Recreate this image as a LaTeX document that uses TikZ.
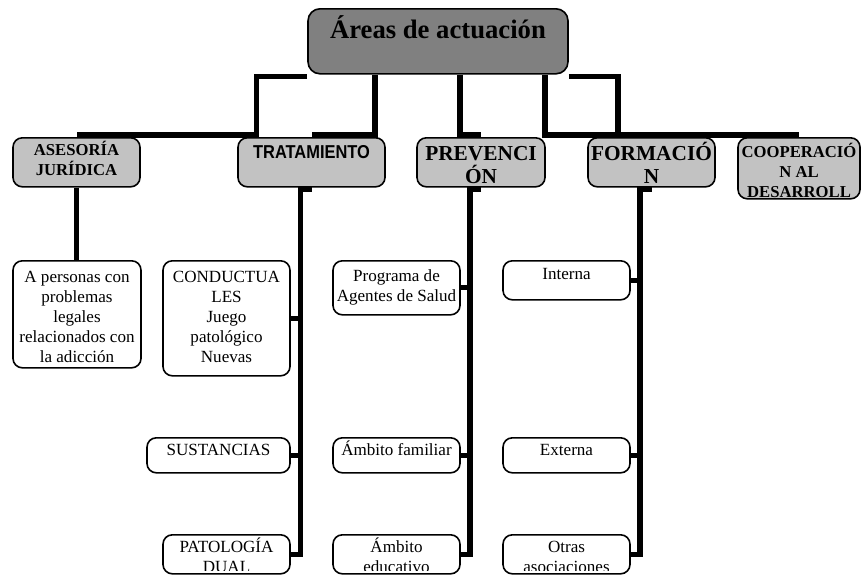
\documentclass[tikz,border=0pt]{standalone}
\usepackage{fontspec}
\setmainfont{Liberation Serif}
\newfontfamily\narrowsans[FakeStretch=0.88]{Liberation Sans}
\definecolor{darkbox}{gray}{0.5}
\definecolor{lightbox}{gray}{0.76}
\tikzstyle{every node}=[inner sep=0pt,anchor=north,align=center]
\tikzstyle{root}=[draw=black,line width=1.2pt,rounded corners=9pt,fill=darkbox,font=\fontsize{20}{24}\selectfont\bfseries]
\tikzstyle{area}=[draw=black,line width=1.2pt,rounded corners=7pt,fill=lightbox,font=\fontsize{12.5}{15}\selectfont\bfseries]
\tikzstyle{big}=[font=\fontsize{16}{17}\selectfont\bfseries]
\tikzstyle{leaf}=[draw=black,line width=1.2pt,rounded corners=7pt,fill=white,font=\fontsize{12.8}{15}\selectfont]
\tikzstyle{cut}=[font=\fontsize{12.8}{15}\selectfont,text height=28.5pt]
\tikzstyle{link}=[line width=4pt]

\begin{document}
\begin{tikzpicture}[x=0.75pt,y=-0.75pt]
  \useasboundingbox (0,0) rectangle (862,576);
  \node[root,minimum width=195pt,text height=22.5pt,text depth=26.25pt] (R) at (438,8) {Áreas de actuación};

  \node[area,minimum width=95.25pt,text height=28.5pt,text depth=8.25pt] (A1) at (76.5,137) {ASESORÍA\\JURÍDICA};
  \node[area,font=\narrowsans\fontsize{14}{16}\selectfont\bfseries,minimum width=110.25pt,text height=15.75pt,text depth=21pt] (A2) at (311.5,137) {TRATAMIENTO};
  \node[area,big,minimum width=96pt,text height=34.25pt,text depth=2.5pt] (A3) at (481,137) {PREVENCI\\ÓN};
  \node[area,big,minimum width=95.25pt,text height=34.25pt,text depth=2.5pt] (A4) at (651.5,137) {FORMACIÓ\\N};
  \node[area,minimum width=91.5pt,text height=45pt,text depth=0.75pt] (A5) at (799,137) {COOPERACIÓ\\N AL\\DESARROLL};

  \node[leaf,minimum width=96pt,text height=76.5pt,text depth=3.75pt] (J1) at (77,260) {A personas con\\problemas\\legales\\relacionados con\\la adicción};

  \node[leaf,minimum width=95.25pt,text height=76.5pt,text depth=9.75pt] (T1) at (226.5,260) {CONDUCTUA\\LES\\Juego\\patológico\\Nuevas};
  \node[leaf,minimum width=107.25pt,text height=13.5pt,text depth=12.75pt] (T2) at (218.5,437) {SUSTANCIAS};
  \node[leaf,minimum width=95.25pt,text height=13.5pt,text depth=15.75pt] (T3) at (226.5,534) {};

  \node[leaf,minimum width=95.25pt,text height=30.75pt,text depth=9.75pt] (P1) at (396.5,260) {Programa de\\Agentes de Salud};
  \node[leaf,minimum width=95.25pt,text height=13.5pt,text depth=12.75pt] (P2) at (396.5,437) {Ámbito familiar};
  \node[leaf,minimum width=95.25pt,text height=13.5pt,text depth=15.75pt] (P3) at (396.5,534) {};

  \node[leaf,minimum width=95.25pt,text height=14.25pt,text depth=15pt] (F1) at (566.5,260) {Interna};
  \node[leaf,minimum width=95.25pt,text height=13.5pt,text depth=12.75pt] (F2) at (566.5,437) {Externa};
  \node[leaf,minimum width=95.25pt,text height=13.5pt,text depth=15.75pt] (F3) at (566.5,534) {};

  % texts of the last row run past the boxes
  \begin{scope}
    \clip (0,534) rectangle (862,570.5);
    \node[cut] (T3t) at (T3.north) {PATOLOGÍA\\DUAL};
    \node[cut] (P3t) at (P3.north) {Ámbito\\educativo};
    \node[cut] (F3t) at (F3.north) {Otras\\asociaciones};
  \end{scope}

  % root to areas
  \draw[link] ([yshift=-1.5pt]R.south west) -- ++(-50.5,0) |- ([yshift=1.5pt]A1.north);
  \draw[link] ([xshift=-47.25pt]R.south) |- ([yshift=1.5pt]A2.north);
  \draw[link] ([xshift=16.5pt]R.south) |- ([yshift=1.5pt]A3.north);
  \draw[link] ([xshift=80.25pt]R.south) |- ([yshift=1.5pt]A5.north);
  \draw[link] ([yshift=-1.5pt]R.south east) -| ([xshift=-25.1pt,yshift=1.5pt]A4.north);

  % areas to leaves
  \draw[link] (A1.south) -- (A1.south |- J1.north);
  \coordinate (s2) at ([xshift=-8.25pt,yshift=-1.5pt]A2.south);
  \coordinate (s3) at ([xshift=-8.25pt,yshift=-1.5pt]A3.south);
  \coordinate (s4) at ([xshift=-8.6pt,yshift=-1.5pt]A4.south);
  \draw[link] ([yshift=-1.5pt]A2.south) -- (s2) |- (T3.east);
  \draw[link] (T1.east) -- (T1.east -| s2);
  \draw[link] (T2.east) -- (T2.east -| s2);
  \draw[link] ([yshift=-1.5pt]A3.south) -- (s3) |- (P3.east);
  \draw[link] (P1.east) -- (P1.east -| s3);
  \draw[link] (P2.east) -- (P2.east -| s3);
  \draw[link] ([yshift=-1.5pt]A4.south) -- (s4) |- (F3.east);
  \draw[link] (F1.east) -- (F1.east -| s4);
  \draw[link] (F2.east) -- (F2.east -| s4);
\end{tikzpicture}
\end{document}
